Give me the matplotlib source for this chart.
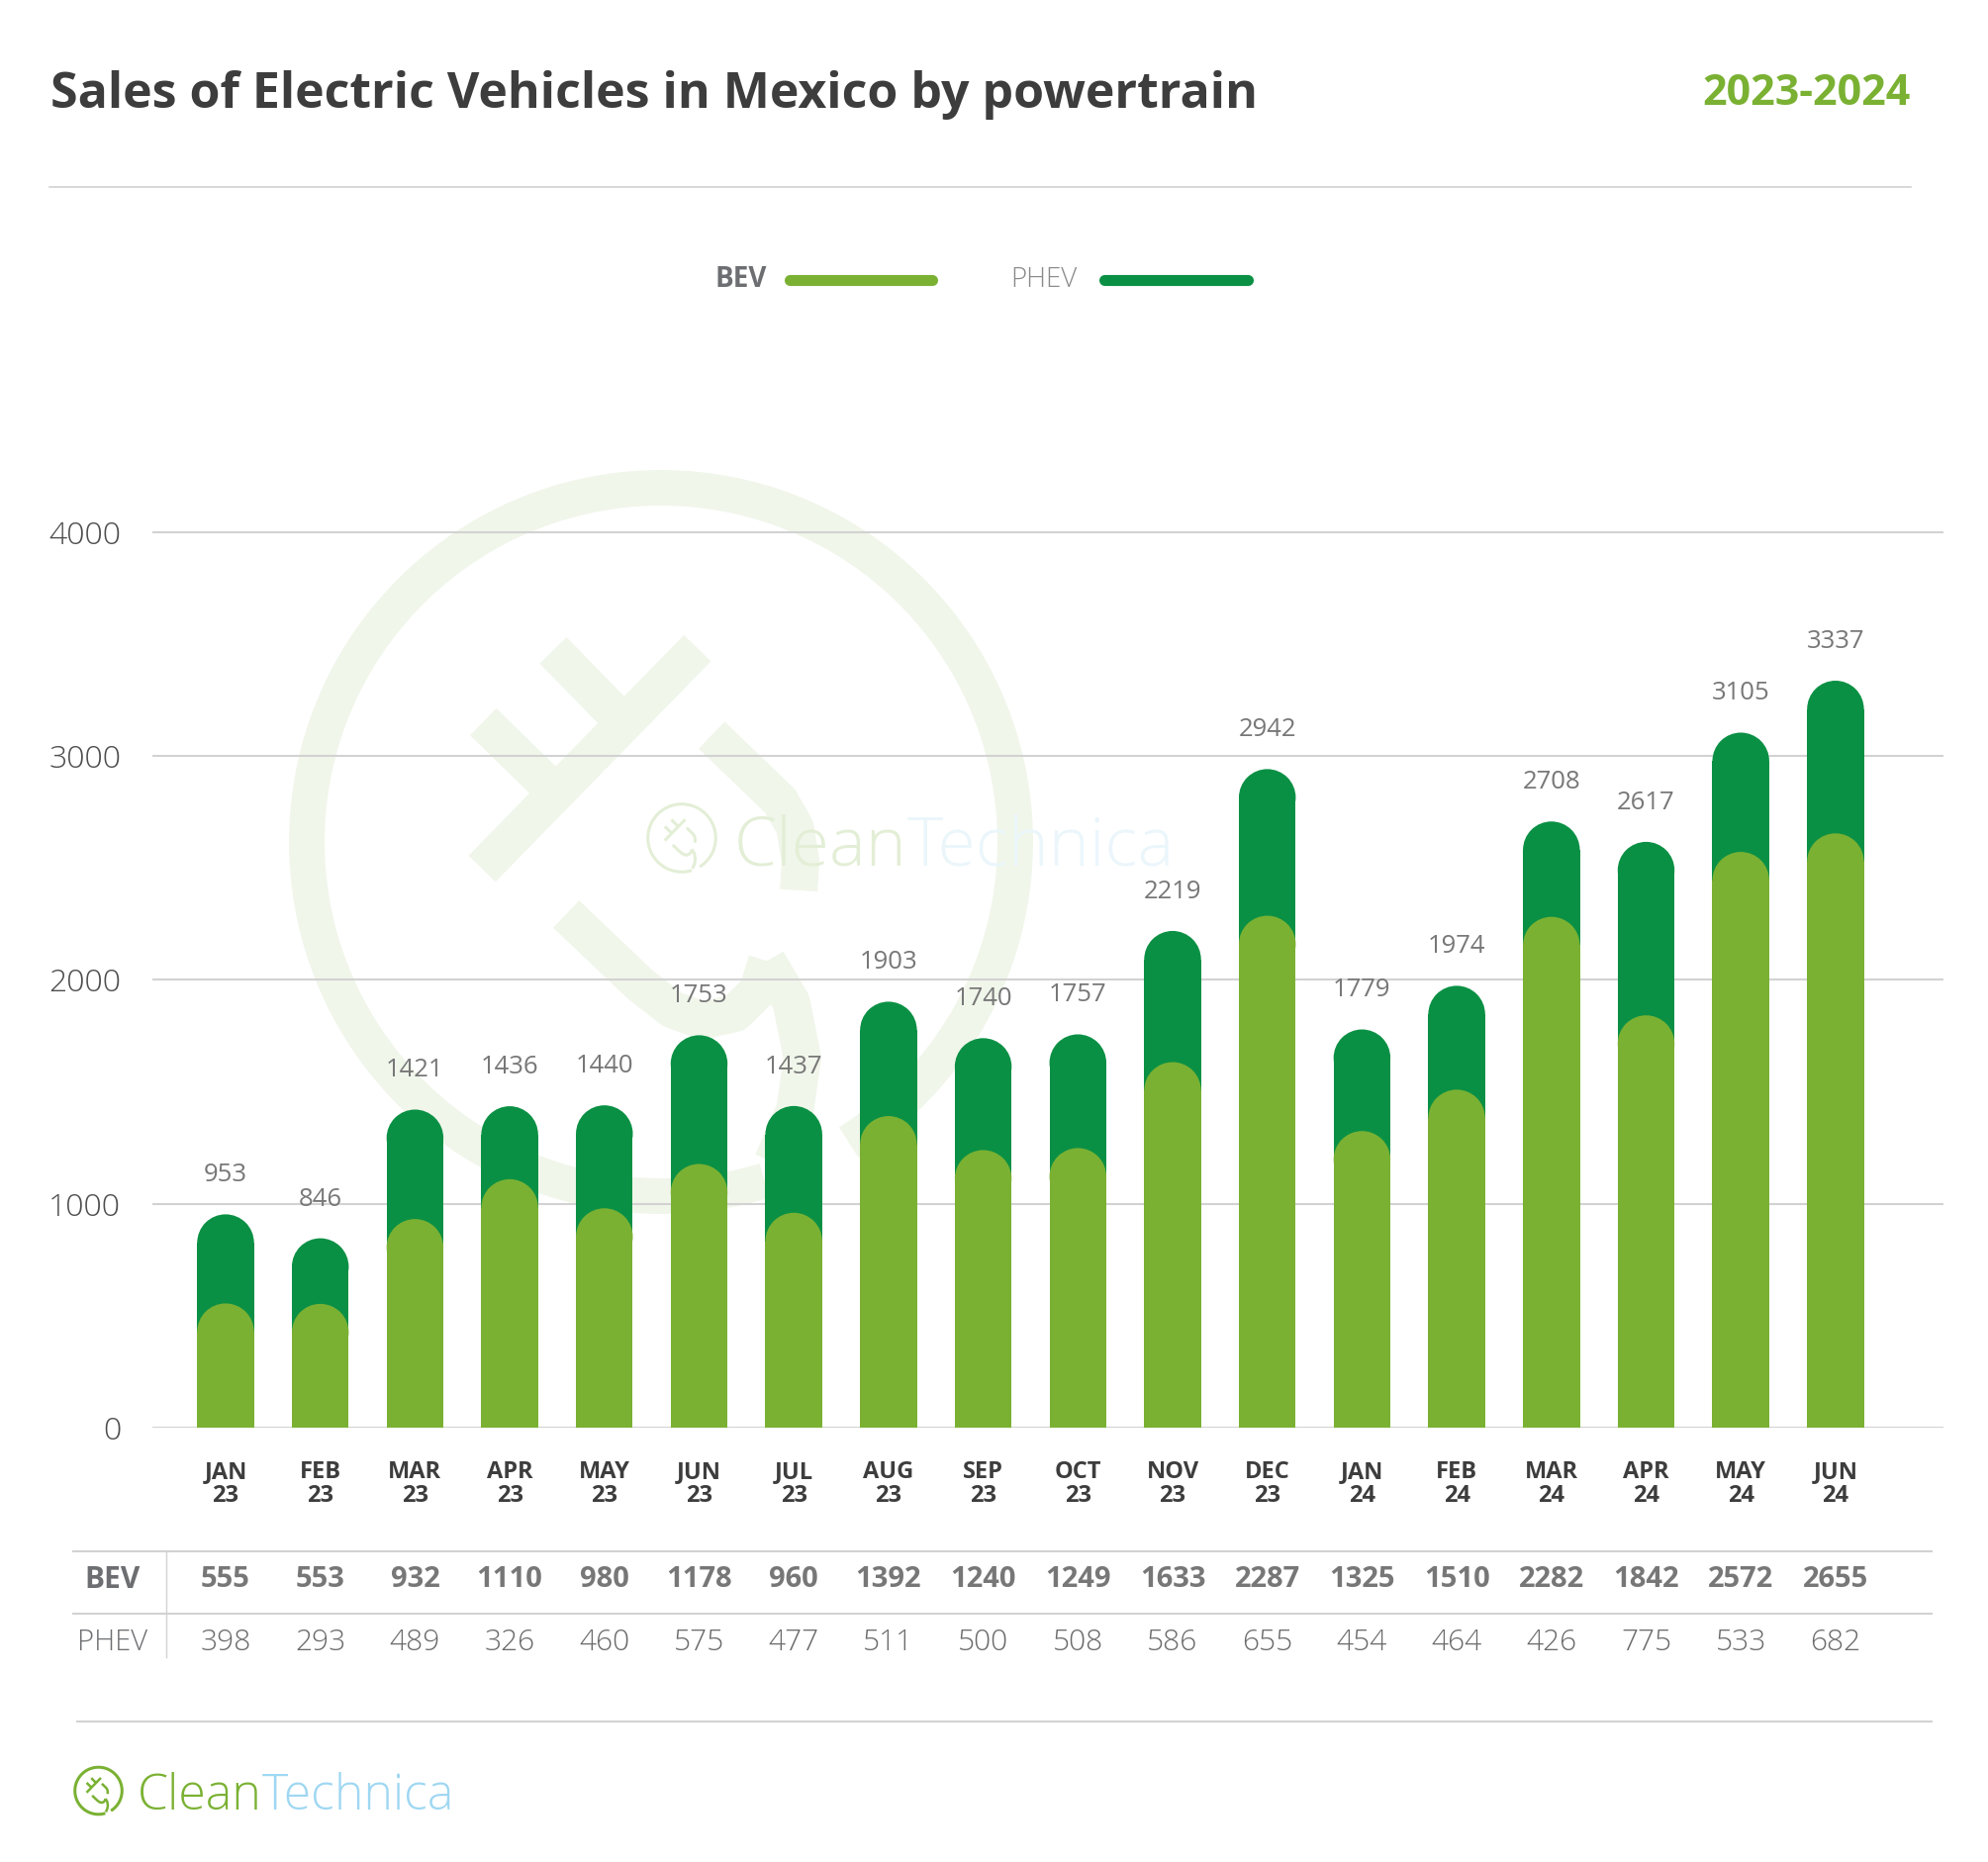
import matplotlib.pyplot as plt
import numpy as np
from matplotlib.patches import Ellipse
from matplotlib import transforms

plt.rcParams['font.family'] = ['Open Sans', 'DejaVu Sans']

# data
months = ["JAN\n23", "FEB\n23", "MAR\n23", "APR\n23", "MAY\n23", "JUN\n23",
          "JUL\n23", "AUG\n23", "SEP\n23", "OCT\n23", "NOV\n23", "DEC\n23",
          "JAN\n24", "FEB\n24", "MAR\n24", "APR\n24", "MAY\n24", "JUN\n24"]
bev = [555, 553, 932, 1110, 980, 1178, 960, 1392, 1240, 1249, 1633, 2287,
       1325, 1510, 2282, 1842, 2572, 2655]
phev = [398, 293, 489, 326, 460, 575, 477, 511, 500, 508, 586, 655,
        454, 464, 426, 775, 533, 682]
yticks = [0, 1000, 2000, 3000, 4000]

C_BEV = '#7ab133'
C_PHEV = '#0a9044'
C_GRID = '#d2d2d2'

W, H = 2009, 1882
def fx(px):
    return px / W
def fy(py):
    return 1 - py / H

fig = plt.figure(figsize=(W / 100, H / 100), dpi=100)

# background layer in pixel coords (watermark, rules)
bg = fig.add_axes([0, 0, 1, 1], zorder=0)
bg.set_xlim(0, W)
bg.set_ylim(H, 0)
bg.axis('off')

K = 0.72  # px -> pt

# plug outline, in units of the ring radius (y down)
plug = [
    [(-0.481, 0.072), (0.098, -0.521)],
    [(-0.478, -0.323), (-0.27, -0.12)],
    [(-0.290, -0.515), (-0.09, -0.31)],
    [(0.136, -0.287), (0.32, -0.11), (0.36, -0.04), (0.375, 0.05), (0.37, 0.13)],
    [(-0.255, 0.194), (-0.054, 0.385), (0.03, 0.45), (0.11, 0.48), (0.20, 0.46),
     (0.26, 0.40), (0.285, 0.32)],
    [(0.285, 0.32), (0.35, 0.43), (0.38, 0.58), (0.36, 0.72), (0.30, 0.86)],
]

def draw_logo(cx, cy, r, ring_px, plug_px, color):
    th = np.radians(np.linspace(73, 418, 300))
    rr = 0.952 * r
    bg.plot(cx + rr * np.cos(th), cy + rr * np.sin(th), color=color,
            lw=ring_px * K, solid_capstyle='butt')
    for seg in plug:
        p = np.array(seg)
        bg.plot(cx + r * p[:, 0], cy + r * p[:, 1], color=color,
                lw=plug_px * K, solid_capstyle='butt', solid_joinstyle='round')

def word_pair(x, y, size, c1, c2, weight='light'):
    t1 = fig.text(fx(x), fy(y), 'Clean', fontsize=size, color=c1,
                  fontweight=weight, va='baseline', ha='left')
    r = fig.canvas.get_renderer()
    bb = t1.get_window_extent(renderer=r)
    fig.text(bb.x1 / W, fy(y), 'Technica', fontsize=size, color=c2,
             fontweight=weight, va='baseline', ha='left')

# big watermark
draw_logo(668, 851, 376, 36, 38, '#f0f6ea')
draw_logo(689, 847, 36, 3, 3, '#e3eed6')
word_pair(742, 874, 50, '#e3eed6', '#ebf6fb')

# main axes
ax = fig.add_axes([fx(154), fy(1443), (1964 - 154) / W, (1443 - 470.1) / H], zorder=1)
ax.patch.set_alpha(0)
x = np.arange(len(months))
xmin, xmax = -0.773, 18.14
ymax = 4300
ax.set_xlim(xmin, xmax)
ax.set_ylim(0, ymax)

bw = 0.6
px_x = (1964 - 154) / (xmax - xmin)
px_y = (1443 - 470.1) / ymax
ry = (bw / 2) * px_x / px_y

def rounded(vals, color, z):
    vals = np.asarray(vals, dtype=float)
    ax.bar(x, vals - ry, width=bw, color=color, zorder=z, lw=0)
    for xi, v in zip(x, vals):
        ax.add_patch(Ellipse((xi, v - ry), bw, 2 * ry, facecolor=color, lw=0, zorder=z))

totals = np.array(bev) + np.array(phev)
rounded(totals, C_PHEV, 2)
rounded(bev, C_BEV, 3)

for xi, t in zip(x, totals):
    ax.annotate(str(t), (xi, t), xytext=(0, 28.5), textcoords='offset points',
                ha='center', va='center', fontsize=18.5, color='#777777')

for s in ax.spines.values():
    s.set_visible(False)
ax.set_yticks(yticks)
ax.set_yticklabels([str(v) for v in yticks], fontweight='light')
ax.yaxis.grid(True, color=C_GRID, lw=1.5)
ax.set_axisbelow(True)
ax.tick_params(axis='y', length=0, pad=23, labelsize=23, labelcolor='#4d4d4d')
ax.set_xticks(x)
ax.set_xticklabels(months, fontweight='bold', fontsize=17, color='#3d3d3d', linespacing=1.0)
ax.tick_params(axis='x', length=0, pad=24)

# table under the chart
trans = transforms.blended_transform_factory(ax.transData, fig.transFigure)
for xi, b, p in zip(x, bev, phev):
    ax.text(xi, fy(1597), str(b), transform=trans, ha='center', va='center',
            fontsize=21, fontweight='bold', color='#777777')
    ax.text(xi, fy(1660), str(p), transform=trans, ha='center', va='center',
            fontsize=21.5, fontweight='light', color='#6a6a6a')
fig.text(fx(113.5), fy(1597), 'BEV', ha='center', va='center', fontsize=21.5,
         fontweight='bold', color='#6d6e71')
fig.text(fx(113.5), fy(1660), 'PHEV', ha='center', va='center', fontsize=21,
         fontweight='light', color='#6d6e71')
bg.plot([74, 1952], [1567.5, 1567.5], color=C_GRID, lw=1.5)
bg.plot([74, 1952], [1631, 1631], color=C_GRID, lw=1.5)
bg.plot([168, 168], [1567.5, 1675], color=C_GRID, lw=1.0)
bg.plot([78, 1952], [1740, 1740], color=C_GRID, lw=1.5)

# header
fig.text(fx(51), fy(109), 'Sales of Electric Vehicles in Mexico by powertrain',
         fontsize=36, fontweight='bold', color='#3d3d3d', va='baseline')
fig.text(fx(1931), fy(106), '2023-2024', fontsize=31, fontweight='bold',
         color=C_BEV, ha='right', va='baseline')
bg.plot([50, 1931], [189, 189], color=C_GRID, lw=1.2)

# legend
fig.text(fx(775), fy(283), 'BEV', ha='right', va='center', fontsize=20,
         fontweight='bold', color='#6d6e71')
bg.plot([798, 942], [283, 283], color=C_BEV, lw=8, solid_capstyle='round')
fig.text(fx(1021), fy(283), 'PHEV', ha='left', va='center', fontsize=20,
         fontweight='light', color='#8a8a8a')
bg.plot([1116, 1261], [283, 283], color=C_PHEV, lw=8, solid_capstyle='round')

# footer logo
draw_logo(99.5, 1810, 25, 3, 2.5, C_BEV)
word_pair(139, 1829, 36, C_BEV, '#9fd7f2')

fig.savefig('out.png', dpi=100)
